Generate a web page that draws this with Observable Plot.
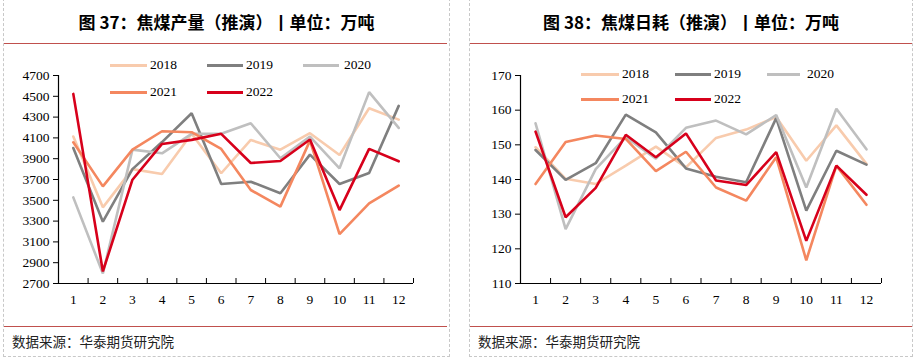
<!DOCTYPE html>
<html><head><meta charset="utf-8">
<script src="https://cdn.jsdelivr.net/npm/d3@7"></script>
<script src="https://cdn.jsdelivr.net/npm/@observablehq/plot@0.6"></script>
<style>
html,body{margin:0;padding:0;background:#fff;}
#page{position:relative;width:914px;height:361px;overflow:hidden;background:#fff;}
.panel{position:absolute;top:-2px;height:359px;border:1px dashed #c8c8c8;box-sizing:border-box;}
.title{position:absolute;top:8px;height:28px;line-height:28px;text-align:center;font-family:"Noto Sans CJK SC";font-weight:bold;font-size:17px;color:#000;white-space:nowrap;}
.rule{position:absolute;height:0;border-top:1.5px solid #c0504d;}
.src{position:absolute;top:331px;font-family:"Noto Sans CJK SC";font-size:13.5px;color:#222;white-space:nowrap;}
.chart{position:absolute;top:45px;}
.leg{position:absolute;font-family:"Liberation Serif";font-size:13.5px;color:#000;white-space:nowrap;}
.leg span.l{position:absolute;height:0;border-top:3px solid;}
.leg span.t{position:absolute;line-height:16px;}
</style></head>
<body><div id="page"></div>
<script>
const months = [1,2,3,4,5,6,7,8,9,10,11,12];
const years = ["2018","2019","2020","2021","2022"];
const colors = ["#f8cbad","#7f7f7f","#bfbfbf","#f4875f","#d7001b"];

// 图37 焦煤产量 (万吨)
const prod2018 = [4113,3432,3800,3753,4139,3760,4080,3987,4145,3936,4385,4276];
const prod2019 = [4003,3294,3800,4060,4337,3657,3679,3567,3939,3657,3763,4408];
const prod2020 = [3528,2796,3987,3952,4139,4140,4241,3904,4113,3808,4540,4196];
const prod2021 = [4058,3634,3987,4164,4155,3994,3599,3439,4074,3175,3471,3641];
const prod2022 = [4523,2816,3698,4042,4081,4139,3859,3878,4084,3406,3994,3875];
const prodTicks = [2700,2900,3100,3300,3500,3700,3900,4100,4300,4500,4700];

// 图38 焦煤日耗 (万吨)
const cons2018 = [149.3,140.2,138.7,144.0,149.5,143.5,152.0,154.4,158.0,145.4,155.6,144.5];
const cons2019 = [148.5,139.9,144.7,158.7,153.6,143.2,140.8,139.2,157.7,131.0,148.3,144.3];
const cons2020 = [156.2,125.7,143.0,152.2,146.0,154.9,157.0,153.0,158.6,137.7,160.4,148.7];
const cons2021 = [138.7,150.8,152.7,151.7,142.4,148.0,137.7,133.9,146.4,116.7,144.0,132.7];
const cons2022 = [153.8,129.1,137.6,152.9,146.4,153.3,139.7,138.4,147.9,122.3,144.0,135.6];
const consTicks = [110,120,130,140,150,160,170];

const titles = ["图 37：焦煤产量（推演）丨单位：万吨","图 38：焦煤日耗（推演）丨单位：万吨"];
const source = "数据来源：华泰期货研究院";

const page = document.getElementById("page");

function el(cls, css, text){
  const d = document.createElement("div");
  d.className = cls;
  Object.assign(d.style, css);
  if (text) d.textContent = text;
  page.appendChild(d);
  return d;
}

function chart(seriesList, ticks, cfg){
  const rows = [];
  seriesList.forEach((vals, i) => vals.forEach((v, j) => rows.push({year: years[i], month: months[j], value: v})));
  const bounds = [0, ...months].map(m => m + 0.5);
  const xMin = bounds[0], yMin = ticks[0];
  const svg = Plot.plot({
    width: 457, height: 280,
    marginLeft: cfg.ml, marginRight: cfg.mr, marginTop: 30, marginBottom: 42,
    x: {type: "linear", domain: [bounds[0], bounds[bounds.length-1]]},
    y: {domain: [ticks[0], ticks[ticks.length-1]]},
    style: {fontFamily: "Liberation Serif", fontSize: "13.5px", color: "#000", background: "transparent", overflow: "visible"},
    marks: [
      Plot.axisY({ticks: ticks, tickSize: 5, tickPadding: 4, tickFormat: d3.format("d"), label: null}),
      Plot.axisX({ticks: bounds, tickSize: -5, tickFormat: () => "", label: null}),
      Plot.axisX({ticks: months, tickSize: 0, tickPadding: 11, tickFormat: d => String(d), label: null}),
      ...years.map((y, i) => Plot.line(rows.filter(r => r.year === y), {x: "month", y: "value", stroke: colors[i], strokeWidth: 2.6, strokeLinejoin: "miter"})),
      Plot.ruleY([yMin], {stroke: "#000", strokeWidth: 1.2}),
      Plot.ruleX([xMin], {stroke: "#000", strokeWidth: 1.2})
    ]
  });
  svg.style.position = "absolute";
  svg.style.left = cfg.left + "px";
  svg.style.top = "45px";
  page.appendChild(svg);
}

// panels
el("panel", {left: "3px", width: "447px"});
el("panel", {left: "469px", width: "444px"});
el("title", {left: "3px", width: "447px"}, titles[0]);
el("title", {left: "469px", width: "444px"}, titles[1]);
el("rule", {left: "4px", width: "443px", top: "43px"});
el("rule", {left: "470px", width: "442px", top: "43px"});
el("rule", {left: "4px", width: "443px", top: "326px"});
el("rule", {left: "470px", width: "442px", top: "326px"});
el("src", {left: "12px"}, source);
el("src", {left: "478px"}, source);

chart([prod2018, prod2019, prod2020, prod2021, prod2022], prodTicks, {left: 0, ml: 58, mr: 44});
chart([cons2018, cons2019, cons2020, cons2021, cons2022], consTicks, {left: 457, ml: 63, mr: 33});

// legends
function legend(items){
  items.forEach(it => {
    const i = years.indexOf(it.year);
    el("leg", {left: "0px", top: "0px"});
    const l = document.createElement("span"); l.className = "l";
    Object.assign(l.style, {left: it.x1 + "px", width: (it.x2 - it.x1) + "px", top: (it.y - 1.5) + "px", borderTopColor: colors[i]});
    const t = document.createElement("span"); t.className = "t";
    Object.assign(t.style, {left: it.tx + "px", top: (it.y - 8) + "px"});
    t.textContent = it.year;
    const w = page.lastChild; w.appendChild(l); w.appendChild(t);
  });
}
legend([
  {year: "2018", x1: 110, x2: 147, tx: 150, y: 65},
  {year: "2019", x1: 207, x2: 243, tx: 246, y: 65},
  {year: "2020", x1: 303, x2: 339, tx: 344, y: 65},
  {year: "2021", x1: 110, x2: 147, tx: 150, y: 92},
  {year: "2022", x1: 207, x2: 243, tx: 246, y: 92},
  {year: "2018", x1: 581, x2: 619, tx: 622, y: 74},
  {year: "2019", x1: 675, x2: 711, tx: 714, y: 74},
  {year: "2020", x1: 767, x2: 800, tx: 807, y: 74},
  {year: "2021", x1: 581, x2: 619, tx: 622, y: 99},
  {year: "2022", x1: 675, x2: 711, tx: 714, y: 99}
]);
</script></body></html>
